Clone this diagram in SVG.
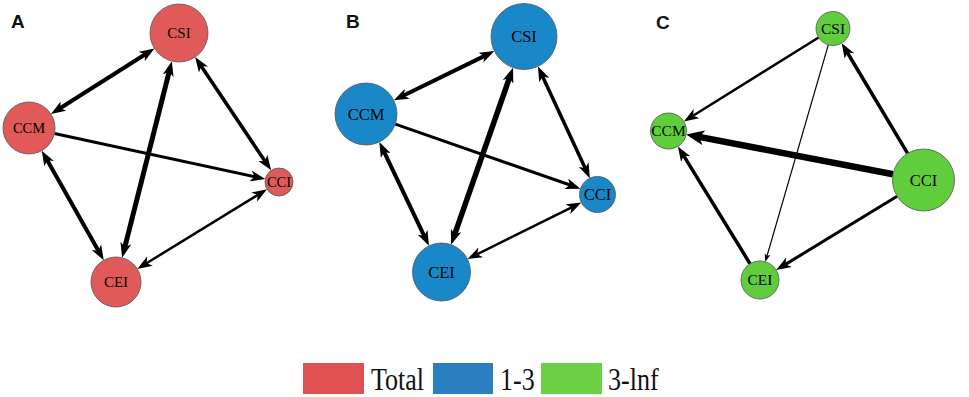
<svg xmlns="http://www.w3.org/2000/svg" width="969" height="397" viewBox="0 0 969 397">
<style>
.bg{fill:#ffffff}
.panel{font-family:"Liberation Sans",Arial,sans-serif;font-weight:bold;font-size:19px;fill:#111}
.node{stroke:#555;stroke-width:0.8}
.red{fill:#e05a5a}
.blue{fill:#1a88c8}
.green{fill:#5fcd3c}
.lbl{font-family:"Liberation Serif","Times New Roman",serif;fill:#000;text-anchor:middle}
.e{stroke:#000;fill:none}
.leg{font-family:"Liberation Serif","Times New Roman",serif;font-size:26px;fill:#111}
</style>
<defs>
<marker id="ah" markerUnits="userSpaceOnUse" markerWidth="15" markerHeight="11" refX="7" refY="5.5" orient="auto-start-reverse" viewBox="0 0 15 11">
<path d="M0,0 L15,5.5 L0,11 L4,5.5 Z" fill="#000"/>
</marker>
<marker id="ahb" markerUnits="userSpaceOnUse" markerWidth="18" markerHeight="15" refX="10" refY="7.5" orient="auto-start-reverse" viewBox="0 0 18 15">
<path d="M0,0 L18,7.5 L0,15 L4.5,7.5 Z" fill="#000"/>
</marker>
<marker id="ahs" markerUnits="userSpaceOnUse" markerWidth="8" markerHeight="6" refX="3" refY="3" orient="auto-start-reverse" viewBox="0 0 8 6">
<path d="M0,0 L8,3 L0,6 L2,3 Z" fill="#000"/>
</marker>
</defs>
<rect class="bg" x="0" y="0" width="969" height="397"/>
<text class="panel" x="11" y="28">A</text>
<text class="panel" x="346" y="28">B</text>
<text class="panel" x="656" y="29">C</text>
<g id="connectors">
<!-- Panel A -->
<line class="e" x1="57.7" y1="109.8" x2="147.7" y2="52.8" stroke-width="4" marker-start="url(#ah)" marker-end="url(#ah)"/>
<line class="e" x1="169.9" y1="68.9" x2="124.1" y2="250.0" stroke-width="5" marker-start="url(#ah)" marker-end="url(#ah)"/>
<line class="e" x1="199.6" y1="63.7" x2="266.7" y2="163.7" stroke-width="3.5" marker-start="url(#ah)" marker-end="url(#ah)"/>
<line class="e" x1="54.4" y1="133.5" x2="257.5" y2="177.4" stroke-width="3" marker-end="url(#ah)"/>
<line class="e" x1="45.7" y1="157.6" x2="99.8" y2="253.3" stroke-width="4" marker-start="url(#ah)" marker-end="url(#ah)"/>
<line class="e" x1="144.1" y1="264.7" x2="260.2" y2="193.5" stroke-width="2.5" marker-start="url(#ah)" marker-end="url(#ah)"/>
<!-- Panel B -->
<line class="e" x1="401.0" y1="96.8" x2="487.2" y2="54.6" stroke-width="4" marker-start="url(#ah)" marker-end="url(#ah)"/>
<line class="e" x1="510.4" y1="75.2" x2="453.7" y2="237.1" stroke-width="5.5" marker-start="url(#ah)" marker-end="url(#ah)"/>
<line class="e" x1="541.3" y1="73.7" x2="586.5" y2="170.9" stroke-width="3.5" marker-start="url(#ah)" marker-end="url(#ah)"/>
<line class="e" x1="395.3" y1="124.2" x2="572.9" y2="186.0" stroke-width="3" marker-end="url(#ah)"/>
<line class="e" x1="382.8" y1="149.2" x2="425.5" y2="238.6" stroke-width="4" marker-start="url(#ah)" marker-end="url(#ah)"/>
<line class="e" x1="474.6" y1="255.5" x2="574.2" y2="206.1" stroke-width="2.5" marker-start="url(#ah)" marker-end="url(#ah)"/>
<!-- Panel C -->
<line class="e" x1="818.6" y1="37.5" x2="690.6" y2="117.3" stroke-width="2.5" marker-end="url(#ah)"/>
<line class="e" x1="828.3" y1="44.8" x2="766.7" y2="257.0" stroke-width="1.2" marker-end="url(#ahs)"/>
<line class="e" x1="907.6" y1="153.4" x2="845.8" y2="50.0" stroke-width="3.5" marker-end="url(#ah)"/>
<line class="e" x1="893.1" y1="174.2" x2="694.0" y2="135.9" stroke-width="6.5" marker-end="url(#ahb)"/>
<line class="e" x1="897.1" y1="196.2" x2="783.0" y2="265.9" stroke-width="3" marker-end="url(#ah)"/>
<line class="e" x1="750.1" y1="263.8" x2="682.1" y2="153.2" stroke-width="3.5" marker-end="url(#ah)"/>
</g>
<!-- Panel A nodes -->
<g id="A-CSI"><circle class="node red" cx="179" cy="33" r="29"/><text class="lbl" x="179" y="38" font-size="15">CSI</text></g>
<g id="A-CCM"><circle class="node red" cx="29" cy="128" r="26"/><text class="lbl" x="29" y="133" font-size="14.5">CCM</text></g>
<g id="A-CCI"><circle class="node red" cx="279" cy="182" r="14"/><text class="lbl" x="279" y="187" font-size="14.5">CCI</text></g>
<g id="A-CEI"><circle class="node red" cx="116" cy="282" r="25"/><text class="lbl" x="116" y="287" font-size="15">CEI</text></g>
<!-- Panel B nodes -->
<g id="B-CSI"><circle class="node blue" cx="524" cy="36.5" r="33"/><text class="lbl" x="524" y="42" font-size="16.5">CSI</text></g>
<g id="B-CCM"><circle class="node blue" cx="366" cy="114" r="31"/><text class="lbl" x="366" y="119.5" font-size="16.5">CCM</text></g>
<g id="B-CCI"><circle class="node blue" cx="597.5" cy="194.5" r="18"/><text class="lbl" x="597.5" y="200" font-size="16.5">CCI</text></g>
<g id="B-CEI"><circle class="node blue" cx="441.5" cy="272" r="29"/><text class="lbl" x="441.5" y="277.5" font-size="16.5">CEI</text></g>
<!-- Panel C nodes -->
<g id="C-CSI"><circle class="node green" cx="833" cy="28.5" r="17"/><text class="lbl" x="833" y="33.5" font-size="15.5">CSI</text></g>
<g id="C-CCM"><circle class="node green" cx="668.5" cy="131" r="18"/><text class="lbl" x="668.5" y="136" font-size="15.5">CCM</text></g>
<g id="C-CCI"><circle class="node green" cx="923.5" cy="180" r="31"/><text class="lbl" x="923.5" y="185.5" font-size="16.5">CCI</text></g>
<g id="C-CEI"><circle class="node green" cx="760" cy="280" r="19"/><text class="lbl" x="760" y="285" font-size="15.5">CEI</text></g>
<!-- Legend -->
<g id="legend">
<rect x="303" y="363" width="61" height="31" fill="#e05252"/>
<text class="leg" transform="translate(371,390) scale(1,1.22)">Total</text>
<rect x="433" y="363" width="60" height="31" fill="#2a7fc0"/>
<text class="leg" transform="translate(500,390) scale(1,1.22)">1-3</text>
<rect x="541" y="363" width="61" height="31" fill="#6bd046"/>
<text class="leg" transform="translate(608,390) scale(1,1.22)">3-lnf</text>
</g>
</svg>
